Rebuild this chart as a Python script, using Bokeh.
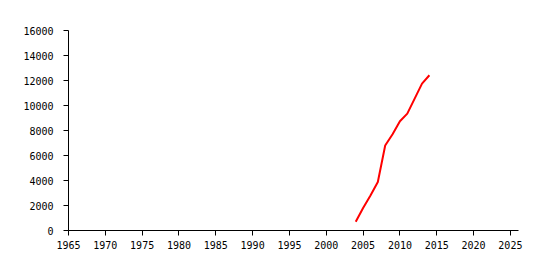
from bokeh.plotting import figure
from bokeh.models import Range1d, FixedTicker
from bokeh.embed import file_html
from bokeh.resources import INLINE

years = [2004, 2005, 2006, 2007, 2008, 2009, 2010, 2011, 2012, 2013, 2014]
values = [700, 1800, 2800, 3880, 6800, 7700, 8740, 9350, 10550, 11750, 12420]
x_ticks = [1965, 1970, 1975, 1980, 1985, 1990, 1995, 2000, 2005, 2010, 2015, 2020, 2025]
y_ticks = [0, 2000, 4000, 6000, 8000, 10000, 12000, 14000, 16000]

p = figure(width=546, height=270, output_backend="svg", toolbar_location=None,
           x_range=Range1d(1965, 2026.1), y_range=Range1d(0, 16000),
           min_border_left=68, min_border_right=28, min_border_top=30, min_border_bottom=40)
p.outline_line_color = None
p.xgrid.visible = False
p.ygrid.visible = False
p.background_fill_color = "white"
p.border_fill_color = "white"

p.line(years, values, line_color="#ff0000", line_width=2)

for ax, ticks in ((p.xaxis[0], x_ticks), (p.yaxis[0], y_ticks)):
    ax.ticker = FixedTicker(ticks=ticks)
    ax.major_tick_in = 0
    ax.major_tick_out = 5
    ax.minor_tick_out = 0
    ax.minor_tick_in = 0
    ax.axis_line_color = "black"
    ax.major_tick_line_color = "black"
    ax.major_label_text_font = "DejaVu Sans Mono"
    ax.major_label_text_font_size = "10px"
    ax.major_label_text_color = "black"
p.yaxis[0].major_label_standoff = 10
p.xaxis[0].major_label_standoff = 5

open("out.html", "w").write(file_html(p, INLINE))
